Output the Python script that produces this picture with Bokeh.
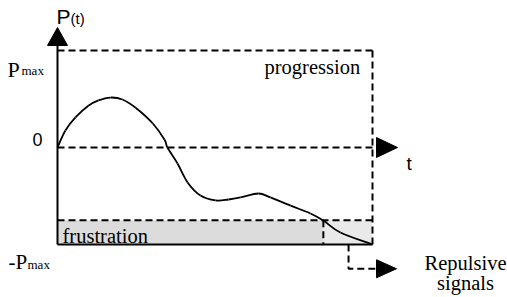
from bokeh.plotting import figure
from bokeh.models import Range1d, Label
from bokeh.embed import file_html
from bokeh.resources import INLINE

# ---- data (t in arbitrary time units, P normalised so Pmax = 1) ----
t_end = 10.0
p_max = 1.0
p_frustration = -0.75
t_cross = 8.44          # where the curve enters the frustration band
t_repulse = 9.24        # start of repulsive signals
p_repulse = -1.25
curve_t = [0, 0.25, 0.57, 0.98, 1.30, 1.68, 2.06, 2.48, 3.02, 3.40, 3.49, 3.81,
           4.13, 4.54, 5.02, 5.43, 5.81, 6.38, 6.76, 7.40, 8.03, 8.44, 8.98, 10.0]
curve_p = [0, 0.175, 0.31, 0.43, 0.485, 0.515, 0.495, 0.41, 0.25, 0.08, 0.0, -0.165,
           -0.36, -0.495, -0.546, -0.536, -0.515, -0.474, -0.515, -0.60, -0.68, -0.753,
           -0.876, -1.0]

# ---- layout helpers (pixel frame -> data) ----
SX, SY = 31.5, 97.0
def tx(xpx):
    return (xpx - 57) / SX
def py(ypx):
    return (147 - ypx) / SY

W, H = 507, 297
p = figure(width=W, height=H, output_backend="svg", toolbar_location=None,
           x_range=Range1d(tx(0), tx(W)), y_range=Range1d(py(H), py(0)),
           min_border=0)
p.axis.visible = False
p.grid.visible = False
p.outline_line_color = None
p.background_fill_color = "white"

DASH = "7 4"
LW = 2

# frustration band
p.quad(left=[0], right=[t_cross], bottom=[-p_max], top=[p_frustration],
       fill_color="#dcdcdc", line_color=None)
p.quad(left=[t_cross], right=[t_end], bottom=[-p_max], top=[p_frustration],
       fill_color="#e9e9e9", line_color=None)

# dashed guide lines
p.line([0, t_end], [p_max, p_max], line_color="black", line_width=LW, line_dash=DASH)
p.line([0, tx(375)], [0, 0], line_color="black", line_width=LW, line_dash=DASH)
p.line([0, t_end], [p_frustration, p_frustration], line_color="black", line_width=LW, line_dash=DASH)
p.line([t_end, t_end], [p_max, -p_max], line_color="black", line_width=LW, line_dash=DASH)
p.line([t_cross, t_cross], [p_frustration, -p_max], line_color="black", line_width=LW, line_dash=DASH)
p.line([t_repulse, t_repulse, tx(376)], [-p_max, p_repulse, p_repulse],
       line_color="black", line_width=LW, line_dash=DASH)

# curve: smooth rendering (Catmull-Rom -> cubic Bezier) through the read points
x0, y0, x1, y1, cx0, cy0, cx1, cy1 = ([] for _ in range(8))
n = len(curve_t)
for i in range(n - 1):
    pa = (curve_t[max(i - 1, 0)], curve_p[max(i - 1, 0)])
    pb = (curve_t[i], curve_p[i])
    pc = (curve_t[i + 1], curve_p[i + 1])
    pd = (curve_t[min(i + 2, n - 1)], curve_p[min(i + 2, n - 1)])
    x0.append(pb[0]); y0.append(pb[1]); x1.append(pc[0]); y1.append(pc[1])
    cx0.append(pb[0] + (pc[0] - pa[0]) / 6); cy0.append(pb[1] + (pc[1] - pa[1]) / 6)
    cx1.append(pc[0] - (pd[0] - pb[0]) / 6); cy1.append(pc[1] - (pd[1] - pb[1]) / 6)
p.bezier(x0=x0, y0=y0, x1=x1, y1=y1, cx0=cx0, cy0=cy0, cx1=cx1, cy1=cy1,
         line_color="black", line_width=1.8)

# solid axis lines
p.line([0, 0], [-p_max, py(44)], line_color="black", line_width=2)
p.line([0, t_end], [-p_max, -p_max], line_color="black", line_width=2)

# arrow heads
hw_y = 10 / SX
p.patch([-hw_y, 0, hw_y], [py(45), py(27), py(45)], fill_color="black", line_color="black")
hh = 10 / SY
p.patch([tx(376), tx(397), tx(376)], [hh, 0, -hh], fill_color="black", line_color="black")
hh2 = 9 / SY
p.patch([tx(376), tx(396), tx(376)], [p_repulse + hh2, p_repulse, p_repulse - hh2],
        fill_color="black", line_color="black")

SERIF = "Liberation Serif, Times New Roman, serif"
SANS = "Liberation Sans, Arial, sans-serif"
DY = 5   # vertical correction for label baselines

def lab(text, xpx, ypx, font, size, align="left"):
    p.add_layout(Label(x=tx(xpx), y=py(ypx - DY), text=text, text_font=font,
                       text_font_size=f"{size}px", text_align=align,
                       text_baseline="alphabetic", text_color="black"))

lab("P", 56, 21, SANS, 21)
lab("(t)", 70, 23, SANS, 15)
lab("P", 7, 74, SERIF, 22)
lab("max", 21, 75, SERIF, 13)
lab("0", 32, 144, SANS, 18)
lab("t", 406, 168, SANS, 19)
lab("progression", 264, 71, SERIF, 20.5)
lab("frustration", 62, 240, SERIF, 20.5)
lab("-P", 8, 266, SERIF, 21)
lab("max", 27, 269, SERIF, 13)
lab("Repulsive", 465, 267, SERIF, 20.5, "center")
lab("signals", 465, 287, SERIF, 20.5, "center")

open("out.html", "w").write(file_html(p, INLINE))
